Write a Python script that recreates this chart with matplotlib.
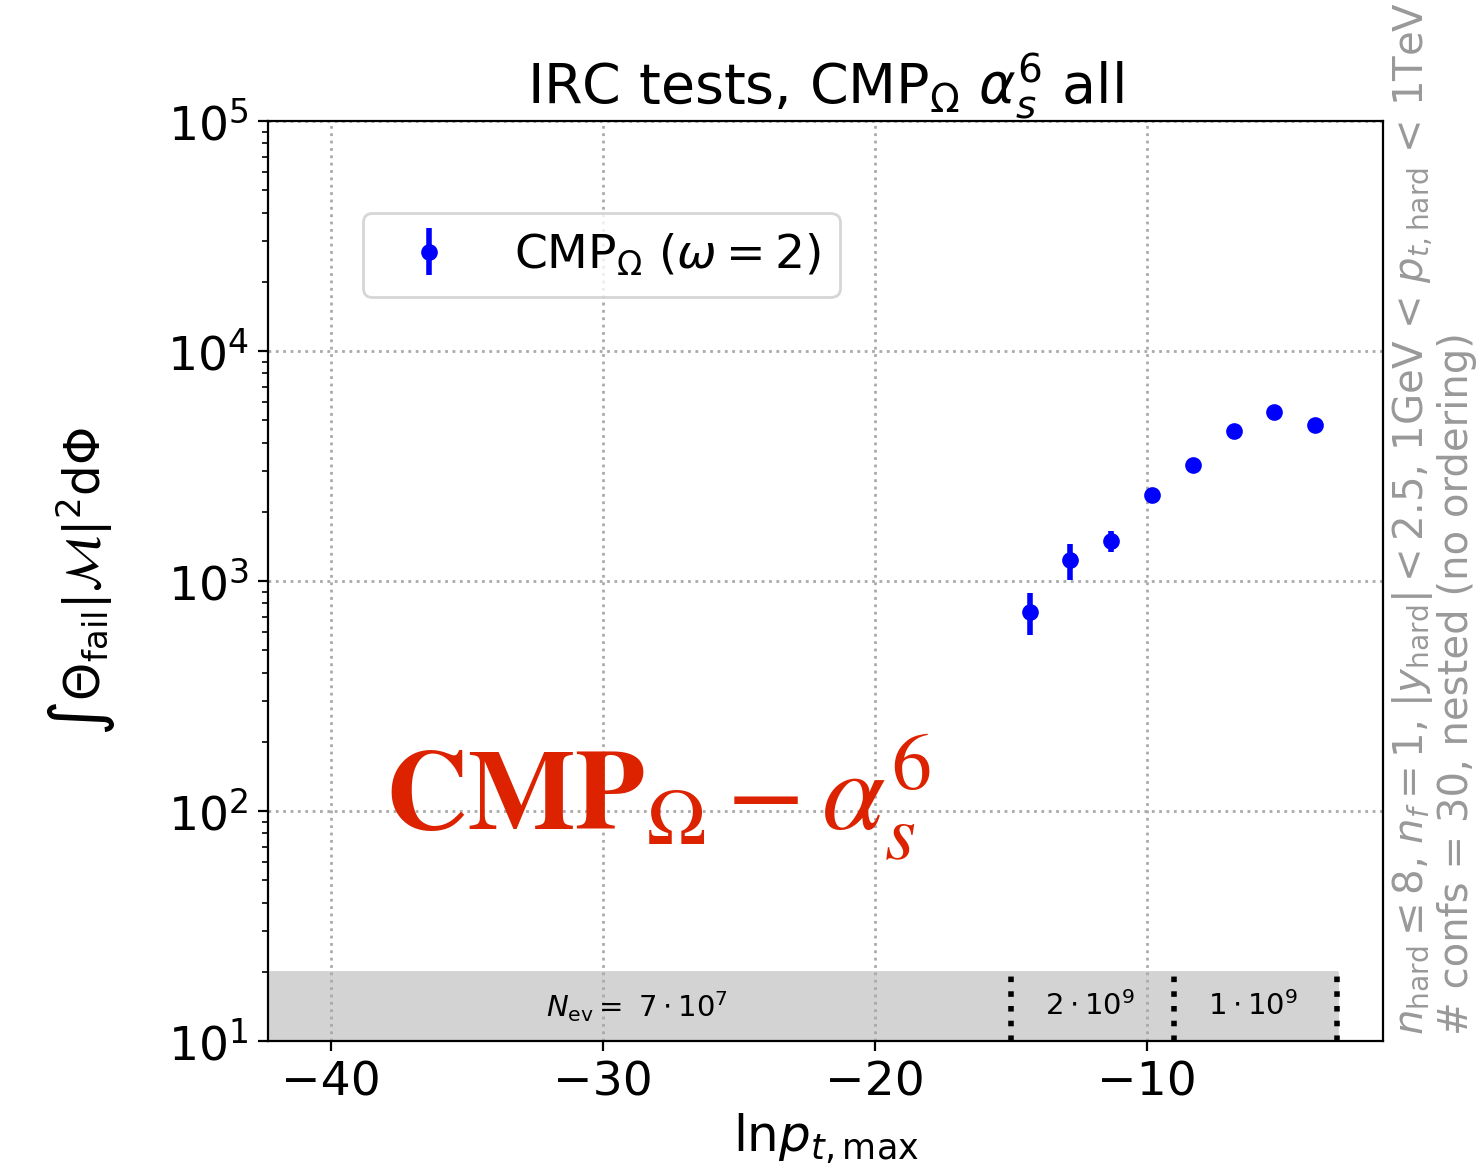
import matplotlib
matplotlib.use('Agg')
import matplotlib.pyplot as plt
import numpy as np

ln_pt = [-14.3, -12.8, -11.3, -9.8, -8.3, -6.8, -5.3, -3.8]
integral = [736, 1234, 1497, 2360, 3180, 4480, 5450, 4780]
err_lo = [154, 225, 157, 60, 70, 90, 110, 100]
err_hi = [148, 215, 159, 60, 70, 90, 110, 100]

# event-count regions in the grey band
region_edges = [-15, -9, -3]
region_labels = [r'$N_{\rm ev} =\ 7 \cdot 10^7$', r'$2 \cdot 10^9$', r'$1 \cdot 10^9$']

xmin, xmax = -42.3, -1.3

fig = plt.figure(figsize=(7.405, 5.875), dpi=200)
ax = fig.add_axes([0.181, 0.114, 0.753, 0.783])

ax.errorbar(ln_pt, integral, yerr=[err_lo, err_hi], fmt='o', color='blue',
            ms=5, elinewidth=2, capsize=0, label=r'CMP$_\Omega$ $(\omega = 2)$', zorder=5)

# grey band with N_ev regions
ax.fill_between([xmin - 5, region_edges[-1]], 10, 20, color='lightgray', zorder=1)
ax.vlines(region_edges, 10, 20, colors='k', linestyles=':', lw=2, zorder=2)
lefts = [xmin] + region_edges[:-1]
for lo, hi, lab in zip(lefts, region_edges, region_labels):
    ax.text(0.5 * (lo + hi) - 0.1, np.sqrt(10 * 20), lab, ha='center', va='center', fontsize=10.5, zorder=3)

ax.set_yscale('log')
ax.set_xlim(xmin, xmax)
ax.set_ylim(10, 1e5)
ax.set_xticks([-40, -30, -20, -10])
ax.grid(True, which='major', linestyle=':', color='#aaaaaa', lw=1)
ax.tick_params(labelsize=17)

ax.set_title(r'IRC tests, CMP$_\Omega$ $\alpha_s^6$ all', fontsize=20)
ax.set_xlabel(r'$\mathrm{ln} p_{t,\max}$', fontsize=18, labelpad=2)
ax.set_ylabel(r'$\int \Theta_{\rm fail} |\mathcal{M}|^2 \mathrm{d}\Phi$', fontsize=17.5, labelpad=18)

ax.legend(loc='upper left', bbox_to_anchor=(0.085, 0.9), borderaxespad=0, fontsize=17)

# big red label
ax.text(-38.0, 83, r'$\mathbf{CMP}_{\Omega} - \alpha_s^6$', color='#dd2200',
        fontsize=41, math_fontfamily='stix', ha='left', va='baseline')

# run info on the right side
fig.text(0.968, 0.119, r'$n_{\rm hard} \leq 8$, $n_f = 1$, $|y_{\rm hard}| < 2.5$, 1GeV < $p_{t,\rm hard}$ < 1TeV' + '\n'
         + '# confs = 30, nested (no ordering)',
         rotation=90, ha='center', va='bottom', color='#999999', fontsize=14.5, multialignment='left',
         linespacing=1.05)

fig.savefig('out.png', dpi=200)
